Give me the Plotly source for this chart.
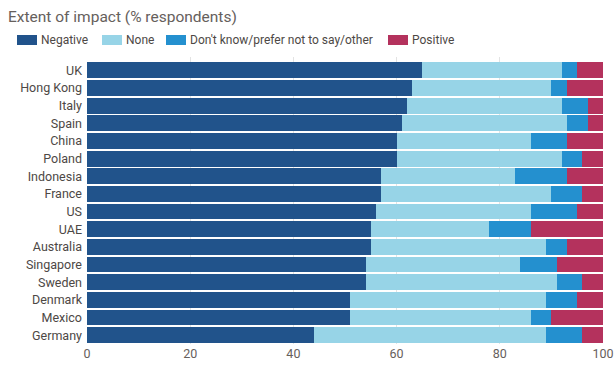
import plotly.graph_objects as go

countries = ["UK", "Hong Kong", "Italy", "Spain", "China", "Poland", "Indonesia", "France",
             "US", "UAE", "Australia", "Singapore", "Sweden", "Denmark", "Mexico", "Germany"]
negative = [65, 63, 62, 61, 60, 60, 57, 57, 56, 55, 55, 54, 54, 51, 51, 44]
none_ = [27, 27, 30, 32, 26, 32, 26, 33, 30, 23, 34, 30, 37, 38, 35, 45]
dont_know = [3, 3, 5, 4, 7, 4, 10, 6, 9, 8, 4, 7, 5, 6, 4, 7]
positive = [5, 7, 3, 3, 7, 4, 7, 4, 5, 14, 7, 9, 4, 5, 10, 4]
x_ticks = [0, 20, 40, 60, 80, 100]
series_names = ["Negative", "None", "Don't know/prefer not to say/other", "Positive"]
series_colors = ["#21538b", "#97d4e7", "#2490cf", "#b4325d"]

W, H = 615, 365
ML, MR, MT, MB = 87, 12, 57, 21
PW = W - ML - MR
PH = H - MT - MB

# legend item left edges in pixels (layout only)
legend_px = [17, 102, 166, 388]

font_family = "Roboto, Lato, sans-serif"
gray = "#66605c"
dark = "#4d4845"

fig = go.Figure()
for name, vals, color in zip(series_names, [negative, none_, dont_know, positive], series_colors):
    fig.add_trace(go.Bar(
        y=countries, x=vals, name=name, orientation="h",
        marker=dict(color=color, line=dict(width=0)),
        showlegend=False,
        hovertemplate="%{y}: %{x}<extra>" + name + "</extra>",
    ))

def px_x(p):
    return (p - ML) / PW

def px_y(p):
    return (H - MB - p) / PH

shapes = []
annotations = []
for name, color, lx in zip(series_names, series_colors, legend_px):
    shapes.append(dict(type="rect", xref="paper", yref="paper",
                       x0=px_x(lx), x1=px_x(lx + 20), y0=px_y(45), y1=px_y(35),
                       fillcolor=color, line=dict(width=0)))
    annotations.append(dict(text=name, xref="paper", yref="paper", x=px_x(lx + 22),
                            y=px_y(40), xanchor="left", yanchor="middle", showarrow=False,
                            font=dict(size=12, color=dark)))

fig.update_layout(
    barmode="stack",
    bargap=0.1,
    width=W, height=H,
    margin=dict(l=ML, r=MR, t=MT, b=MB, autoexpand=False),
    paper_bgcolor="white",
    plot_bgcolor="white",
    showlegend=False,
    font=dict(family=font_family, size=12.5, color=gray),
    title=dict(text="Extent of impact (% respondents)", x=8 / W, xanchor="left",
               y=1 - 17 / H, yanchor="middle", font=dict(size=15.5, color=gray)),
    shapes=shapes,
    annotations=annotations,
    xaxis=dict(range=[0, 100], tickvals=x_ticks, showgrid=True, gridcolor="#e3e3e3",
               gridwidth=1, zeroline=False, showline=False, ticks="",
               tickfont=dict(size=12.5, color=gray), fixedrange=True, automargin=False),
    yaxis=dict(categoryorder="array", categoryarray=countries, range=[15.5, -0.75],
               tickmode="array", tickvals=countries, ticktext=countries,
               showgrid=False, ticks="", ticklabelstandoff=4, automargin=False,
               tickfont=dict(size=12.5, color=dark), fixedrange=True),
)

fig.write_html("out.html",
               config={"displayModeBar": False},
               post_script="document.body.style.margin='0';document.body.style.overflow='hidden';")
